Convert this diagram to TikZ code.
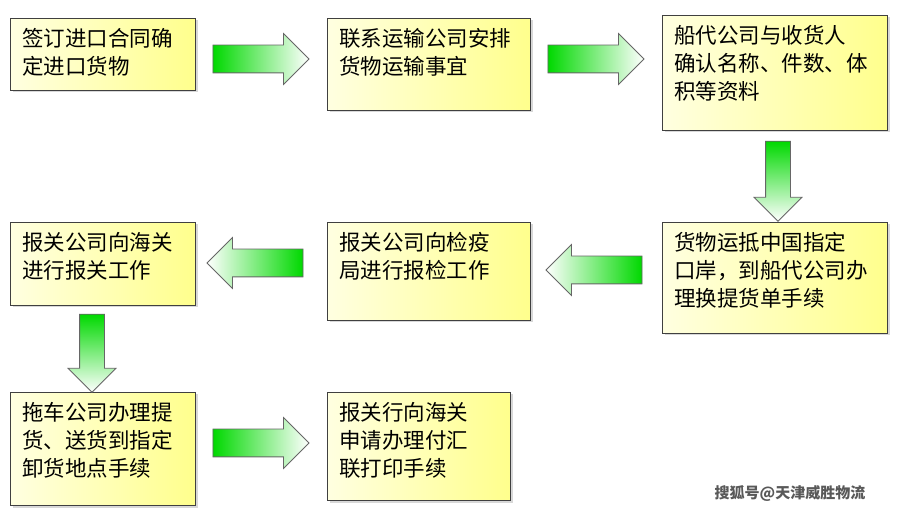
\documentclass[tikz,border=0pt]{standalone}
\usepackage{fontspec}
\setmainfont{Noto Sans CJK SC}
\usetikzlibrary{shapes.arrows,shadows}
\begin{document}
\begin{tikzpicture}[x=1pt,y=-1pt,
  box/.style={draw=black!75,line width=1pt,left color=yellow!12,right color=yellow!45,
    drop shadow={shadow xshift=2pt,shadow yshift=-2pt,opacity=0.3},
    anchor=north west,inner sep=0pt},
  arr/.style={single arrow,draw=black!60,line width=0.8pt,minimum height=96pt,minimum width=0pt,
    inner xsep=0pt,inner ysep=13.5pt,single arrow head extend=11.5pt},
  varr/.style={arr,inner xsep=12pt,inner ysep=0pt,shape border rotate=270,top color=green!85!black,bottom color=white}]
\useasboundingbox (0,0) rectangle (900,518);
\fill[white] (0,0) rectangle (900,518);
\newcommand\bx[6]{\node[box,minimum width=#4pt,minimum height=#5pt] (#1) at (#2,#3) {};
  \node[anchor=north west,align=left,font=\fontsize{21.5}{28}\selectfont,inner sep=0pt] at (#2+12,#3+10) {#6};}
\bx{b1}{10}{18}{185}{72}{签订进口合同确\\定进口货物}
\bx{b2}{327}{18}{203}{92}{联系运输公司安排\\货物运输事宜}
\bx{b3}{662}{15}{225}{115}{船代公司与收货人\\确认名称、件数、体\\积等资料}
\bx{b4}{662}{222}{225}{111}{货物运抵中国指定\\口岸，到船代公司办\\理换提货单手续}
\bx{b5}{327}{222}{203}{98}{报关公司向检疫\\局进行报检工作}
\bx{b6}{10}{222}{185}{83}{报关公司向海关\\进行报关工作}
\bx{b7}{10}{392}{185}{113}{拖车公司办理提\\货、送货到指定\\卸货地点手续}
\bx{b8}{327}{392}{183}{108}{报关行向海关\\申请办理付汇\\联打印手续}
\tikzset{gr/.style={left color=green!85!black,right color=white}}
\node[arr,gr,shape border rotate=0] (a1) at (254,59) {};
\node[arr,gr,shape border rotate=0] (a2) at (589,59) {};
\node[varr,minimum height=80pt] (a3) at (778,175) {};
\node[arr,shape border rotate=180,left color=white,right color=green!85!black] (a4) at (601,270) {};
\node[arr,shape border rotate=180,left color=white,right color=green!85!black] (a5) at (262,263) {};
\node[varr,minimum height=78pt] (a6) at (92,347) {};
\node[arr,gr,shape border rotate=0] (a7) at (254,443) {};
\node[font=\fontsize{15}{18}\selectfont\bfseries,text=black!65] (wm) at (790,494) {搜狐号@天津威胜物流};
\end{tikzpicture}
\end{document}
